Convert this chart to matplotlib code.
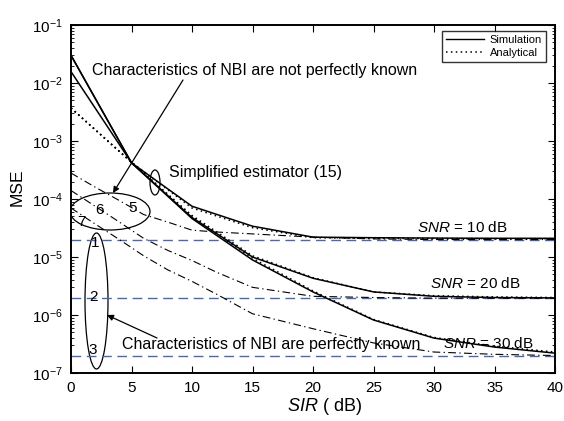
import matplotlib
matplotlib.use("Agg")
import matplotlib.pyplot as plt
from matplotlib.patches import Ellipse
from matplotlib.lines import Line2D
from matplotlib.ticker import FixedLocator, LogLocator, NullFormatter
import numpy as np

plt.rcParams['font.family'] = ['Liberation Sans', 'DejaVu Sans']
plt.rcParams['mathtext.fontset'] = 'custom'
plt.rcParams['mathtext.rm'] = 'Liberation Sans'
plt.rcParams['mathtext.it'] = 'Liberation Sans:italic'
plt.rcParams['mathtext.bf'] = 'Liberation Sans:bold'

# ---- data ----
sir = [0, 5, 10, 15, 20, 25, 30, 35, 40]
sim_snr10 = [0.0157, 4.2e-4, 7.5e-5, 3.4e-5, 2.2e-5, 2.15e-5, 2.12e-5, 2.1e-5, 2.1e-5]
sim_snr20 = [0.030, 4.2e-4, 4.8e-5, 1.0e-5, 4.3e-6, 2.5e-6, 2.1e-6, 2.0e-6, 1.97e-6]
sim_snr30 = [0.030, 4.2e-4, 4.6e-5, 8.9e-6, 2.5e-6, 8.2e-7, 4.0e-7, 2.8e-7, 2.2e-7]
ana_snr10 = [3.7e-3, 4.3e-4, 7.0e-5, 3.2e-5, 2.15e-5, 2.1e-5, 2.08e-5, 2.07e-5, 2.07e-5]
ana_snr20 = [3.7e-3, 4.3e-4, 5.2e-5, 1.05e-5, 4.4e-6, 2.5e-6, 2.15e-6, 2.05e-6, 2.0e-6]
ana_snr30 = [3.7e-3, 4.3e-4, 5.0e-5, 9.5e-6, 2.6e-6, 8.4e-7, 4.1e-7, 2.9e-7, 2.3e-7]

sir_dd = [0, 2, 4, 6, 8, 10, 12, 15, 20, 25, 30, 35, 40]
unknown_5 = [2.8e-4, 1.6e-4, 9.4e-5, 5.4e-5, 4.0e-5, 2.9e-5, 2.7e-5, 2.5e-5, 2.2e-5, 2.05e-5, 2.0e-5, 2.0e-5, 2.0e-5]
unknown_6 = [1.4e-4, 7.5e-5, 4.0e-5, 2.1e-5, 1.3e-5, 8.7e-6, 5.5e-6, 3.0e-6, 2.1e-6, 2.0e-6, 1.95e-6, 1.95e-6, 1.95e-6]
unknown_7 = [7.0e-5, 3.7e-5, 2.0e-5, 1.05e-5, 6.0e-6, 3.8e-6, 2.3e-6, 1.05e-6, 5.8e-7, 3.3e-7, 2.3e-7, 2.1e-7, 2.0e-7]

known_floor = [2.0e-5, 2.0e-6, 2.0e-7]
snr_labels = ['10', '20', '30']
y_major = [1e-7, 1e-6, 1e-5, 1e-4, 1e-3, 1e-2, 1e-1]

# ---- figure ----
fig = plt.figure(figsize=(5.64, 4.21), dpi=100)
ax = fig.add_axes([71/564, 48/421, 484/564, 348/421])

# known characteristics floors (blue dashed)
for fl in known_floor:
    ax.plot([sir[0], sir[-1]], [fl, fl], color='#4a67b0', lw=1.0, ls=(0, (7, 4)))

# not perfectly known (dash-dot)
for ys in (unknown_5, unknown_6, unknown_7):
    ax.plot(sir_dd, ys, color='k', lw=0.8, ls=(0, (7, 3, 1.2, 3)))

# simulation
for ys in (sim_snr10, sim_snr20, sim_snr30):
    ax.plot(sir, ys, color='k', lw=1.1, ls='-')
# analytical
for ys in (ana_snr10, ana_snr20, ana_snr30):
    ax.plot(sir, ys, color='k', lw=1.1, ls=(0, (1, 2.2)))

ax.set_yscale('log')
ax.set_xlim(0, 40)
ax.set_ylim(1e-7, 1e-1)
ax.set_xticks(np.arange(0, 41, 5))
ax.yaxis.set_major_locator(FixedLocator(y_major))
ax.yaxis.set_minor_locator(LogLocator(base=10, subs=np.arange(2, 10), numticks=20))
ax.yaxis.set_minor_formatter(NullFormatter())
ax.tick_params(which='both', direction='in', top=True, right=True, labelsize=11)
ax.tick_params(which='major', length=5, width=0.8, pad=6)
ax.tick_params(which='minor', length=2.5, width=0.6)
for s in ax.spines.values():
    s.set_linewidth(1.4)
ax.xaxis.get_offset_text().set_visible(False)
ax.yaxis.get_offset_text().set_visible(False)

ax.set_xlabel(r'$\mathit{SIR}$ ( dB)', fontsize=13)
ax.set_ylabel('MSE', fontsize=12.5)
ax.xaxis.set_label_coords(0.524, -0.067)
ax.yaxis.set_label_coords(-0.095, 0.534)

# legend
h = [Line2D([], [], color='k', lw=1.0, ls='-'),
     Line2D([], [], color='k', lw=1.1, ls=(0, (1, 2.2)))]
leg = ax.legend(h, ['Simulation', 'Analytical'], loc='upper right',
                bbox_to_anchor=(0.981, 0.982), fontsize=8, frameon=True,
                fancybox=False, handlelength=3.4, borderpad=0.35,
                labelspacing=0.25, handletextpad=0.5, borderaxespad=0)
leg.get_frame().set_edgecolor('k')
leg.get_frame().set_linewidth(1.0)

def fx(px):
    return (px - 71) / 484.0

def fy(py):
    return (373 - py) / 348.0

T = ax.transAxes
fs = 11.5
ax.text(fx(92), fy(70), 'Characteristics of NBI are not perfectly known',
        transform=T, fontsize=fs, ha='left', va='center')
ax.annotate('', xy=(fx(113), fy(193)), xycoords=T, xytext=(fx(183), fy(80)),
            textcoords=T, arrowprops=dict(arrowstyle='-|>', lw=0.9, color='k',
                                          mutation_scale=9, shrinkA=0, shrinkB=0))
ax.text(fx(169), fy(173), 'Simplified estimator (15)', transform=T,
        fontsize=fs, ha='left', va='center')
ax.text(fx(122), fy(345), 'Characteristics of NBI are perfectly known',
        transform=T, fontsize=fs, ha='left', va='center')
ax.annotate('', xy=(fx(107), fy(315)), xycoords=T, xytext=(fx(157), fy(338)),
            textcoords=T, arrowprops=dict(arrowstyle='-|>', lw=0.9, color='k',
                                          mutation_scale=9, shrinkA=0, shrinkB=0))
for lab, px, py in zip(snr_labels, (417, 430, 443), (227, 283, 343)):
    ax.text(fx(px), fy(py), r'$\mathit{SNR}$ = ' + lab + ' dB', transform=T,
            fontsize=11, ha='left', va='center')

for lab, px, py in (('5', 133, 208), ('6', 100, 210), ('7', 81, 222),
                    ('1', 95, 243), ('2', 93, 297), ('3', 93, 350)):
    ax.text(fx(px), fy(py), lab, transform=T, fontsize=11, ha='center', va='center')

# ellipses
ax.add_patch(Ellipse((fx(110), fy(211.5)), 80/484, 37/348, transform=T,
                     fill=False, ec='k', lw=0.9))
ax.add_patch(Ellipse((fx(96.5), fy(301)), 23/484, 136/348, transform=T,
                     fill=False, ec='k', lw=0.9))
ax.add_patch(Ellipse((fx(155), fy(182.5)), 10/484, 25/348, transform=T,
                     fill=False, ec='k', lw=0.9))

fig.savefig('out.png', dpi=100)
